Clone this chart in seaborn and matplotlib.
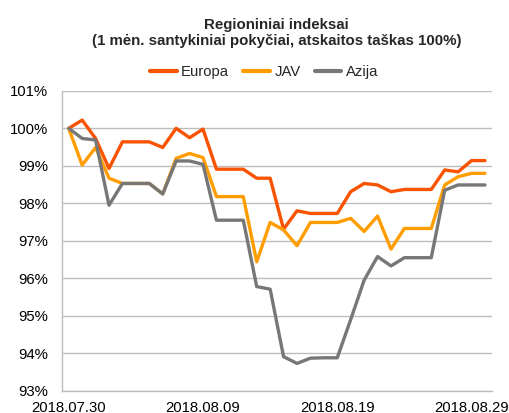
import matplotlib
matplotlib.use('Agg')
import matplotlib.pyplot as plt
import matplotlib.dates as mdates
from matplotlib.ticker import FuncFormatter
import seaborn as sns
import pandas as pd

dates = pd.date_range('2018-07-30', '2018-08-30', freq='D')

europa = [100.00, 100.22, 99.73, 98.93, 99.64, 99.64, 99.64, 99.49, 100.00, 99.75,
          99.98, 98.91, 98.91, 98.91, 98.67, 98.67, 97.31, 97.80, 97.73, 97.73,
          97.73, 98.31, 98.53, 98.49, 98.31, 98.37, 98.37, 98.37, 98.89, 98.84,
          99.14, 99.14]
jav = [100.00, 99.02, 99.49, 98.67, 98.53, 98.53, 98.53, 98.25, 99.20, 99.33,
       99.22, 98.18, 98.18, 98.18, 96.44, 97.49, 97.29, 96.87, 97.49, 97.49,
       97.49, 97.60, 97.25, 97.66, 96.78, 97.33, 97.33, 97.33, 98.49, 98.71,
       98.80, 98.80]
azija = [100.00, 99.73, 99.69, 97.95, 98.53, 98.53, 98.53, 98.25, 99.13, 99.13,
         99.04, 97.55, 97.55, 97.55, 95.78, 95.71, 93.91, 93.73, 93.87, 93.88,
         93.88, 94.90, 95.95, 96.58, 96.33, 96.55, 96.55, 96.55, 98.35, 98.49,
         98.49, 98.49]

regions = ['Europa', 'JAV', 'Azija']
colors = ['#FA5300', '#FF9D00', '#777777']
tick_idx = [0, 10, 20, 30]

df = pd.DataFrame({'data': dates, 'Europa': europa, 'JAV': jav, 'Azija': azija})
long = df.melt(id_vars='data', value_vars=regions, var_name='regionas', value_name='indeksas')

sns.set_theme(style='white')
plt.rcParams['font.family'] = ['Liberation Sans', 'DejaVu Sans']

fig = plt.figure(figsize=(5.1, 4.13), dpi=100)
ax = fig.add_axes([0.1216, 0.0538, 0.8425, 0.7262])

sns.lineplot(data=long, x='data', y='indeksas', hue='regionas', hue_order=regions,
             palette=colors, linewidth=2.4, ax=ax, legend=True)

ax.set_ylim(93, 101)
ax.set_yticks(range(93, 102))
ax.yaxis.set_major_formatter(FuncFormatter(lambda v, p: f'{v:.0f}%'))
ax.set_xlim(dates[0] - pd.Timedelta(hours=12), dates[-1] + pd.Timedelta(hours=12))
ax.set_xticks([dates[i] for i in tick_idx])
ax.xaxis.set_major_formatter(mdates.DateFormatter('%Y.%m.%d'))
ax.tick_params(axis='both', labelsize=10.7, colors='#000000', length=0)
ax.tick_params(axis='y', pad=10)
ax.tick_params(axis='x', pad=7)
ax.set_xlabel('')
ax.set_ylabel('')

ax.grid(axis='y', color='#BDBDBD', linewidth=1.0)
ax.set_axisbelow(True)
for side in ['top', 'right']:
    ax.spines[side].set_visible(False)
for side in ['left', 'bottom']:
    ax.spines[side].set_color('#BDBDBD')
    ax.spines[side].set_linewidth(1.0)

ax.set_title('Regioniniai indeksai\n(1 mėn. santykiniai pokyčiai, atskaitos taškas 100%)',
             fontsize=10.8, fontweight='bold', pad=33, linespacing=1.2)

leg = ax.legend(loc='lower center', bbox_to_anchor=(0.47, 0.995), ncol=3, frameon=False,
                fontsize=10.7, handlelength=1.8, handletextpad=0.3, columnspacing=0.95)
for line in leg.get_lines():
    line.set_linewidth(3.0)

fig.savefig('out.png', dpi=100)
